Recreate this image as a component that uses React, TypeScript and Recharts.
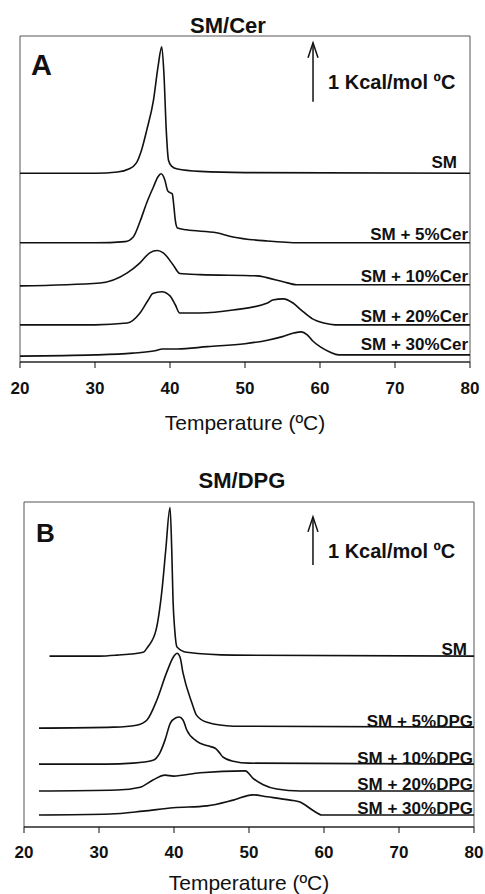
import React from 'react';
import { LineChart, Line, XAxis, YAxis, ReferenceArea, ReferenceLine } from 'recharts';

const FONT = '"Liberation Sans", Arial, Helvetica, sans-serif';

// Shared temperature axis (°C)
const temperatureTicks = [20, 30, 40, 50, 60, 70, 80];

// ---------- Panel A: SM/Cer — excess heat capacity (kcal/mol/°C) vs T (°C) ----------
const cerLabels = ['SM', 'SM + 5%Cer', 'SM + 10%Cer', 'SM + 20%Cer', 'SM + 30%Cer'];
const cerOffsets = [3.2, 2.02, 1.31, 0.63, 0.12];
const cerSM: [number, number][] = [
  [20, 0], [30, 0], [33, 0.02], [34.5, 0.07], [35.5, 0.17], [36.2, 0.39], [36.9, 0.73],
  [37.8, 1.24], [38.4, 1.8], [38.9, 2.14], [39.2, 1.66], [39.5, 0.73], [39.8, 0.22],
  [40.2, 0.12], [41, 0.07], [44, 0.03], [50, 0.01], [80, 0],
];
const cer5: [number, number][] = [
  [20, 0], [30, 0], [34, 0.02], [35.1, 0.1], [36, 0.36], [36.9, 0.68], [37.8, 0.95],
  [38.4, 1.12], [38.8, 1.17], [39.3, 1.07], [39.7, 0.88], [40.0, 0.85], [40.3, 0.83],
  [40.5, 0.64], [40.7, 0.39], [41, 0.25], [42.2, 0.22], [46.2, 0.17], [48.4, 0.1],
  [53, 0.03], [57.3, 0], [80, 0],
];
const cer10: [number, number][] = [
  [20, -0.02], [30.7, 0.03], [34.3, 0.2], [36, 0.37], [37.3, 0.54], [38.3, 0.58],
  [39.1, 0.54], [40.4, 0.34], [41.3, 0.19], [44, 0.17], [51.6, 0.15], [52.9, 0.12],
  [55.1, 0.05], [56.9, 0], [80, 0],
];
const cer20: [number, number][] = [
  [20, 0], [30, 0], [34.3, 0.03], [36, 0.2], [37.1, 0.42], [37.7, 0.53], [38.9, 0.56],
  [40, 0.49], [40.7, 0.34], [41.3, 0.2], [44, 0.2], [48.4, 0.25], [53, 0.37], [53.7, 0.42],
  [55.1, 0.44], [56.4, 0.37], [57.5, 0.25], [59, 0.1], [60.5, 0.03], [62, 0], [80, 0],
];
const cer30: [number, number][] = [
  [20, -0.02], [30, 0], [35, 0.03], [38, 0.07], [39, 0.1], [41, 0.1], [45, 0.14],
  [50, 0.19], [53, 0.25], [55, 0.31], [56.5, 0.37], [57.5, 0.39], [58.3, 0.34],
  [59, 0.24], [60, 0.14], [61.3, 0.05], [62.5, 0], [80, 0],
];
const cerSeries = [cerSM, cer5, cer10, cer20, cer30];

// ---------- Panel B: SM/DPG ----------
const dpgLabels = ['SM', 'SM + 5%DPG', 'SM + 10%DPG', 'SM + 20%DPG', 'SM + 30%DPG'];
const dpgOffsets = [3.56, 2.08, 1.31, 0.75, 0.25];
const dpgSM: [number, number][] = [
  [23.4, 0], [30, 0], [32.4, 0.02], [35.9, 0.08], [36.5, 0.19], [37.6, 0.54], [38.4, 1.38],
  [38.9, 2.21], [39.47, 3.1], [39.7, 2.21], [39.87, 1.17], [40.1, 0.54], [40.4, 0.19],
  [41.7, 0.08], [47.9, 0.02], [80, 0],
];
const dpg5: [number, number][] = [
  [22, -0.02], [32, 0], [35, 0.04], [36.4, 0.15], [37.7, 0.56], [39, 1.13], [40, 1.48],
  [40.4, 1.54], [40.8, 1.46], [41.2, 1.13], [42.4, 0.5], [43, 0.25], [44.4, 0.1],
  [47.9, 0.02], [80, 0],
];
const dpg10: [number, number][] = [
  [22, 0], [31, 0], [34.5, 0.02], [37.2, 0.08], [38.1, 0.23], [38.8, 0.5], [39.5, 0.85],
  [40.2, 0.96], [40.7, 0.98], [41.2, 0.92], [41.7, 0.71], [43, 0.48], [44.5, 0.38],
  [45.5, 0.33], [46, 0.25], [46.5, 0.15], [47.9, 0.06], [50, 0.02], [80, 0],
];
const dpg20: [number, number][] = [
  [22, 0], [32.4, 0.02], [35.5, 0.08], [37.2, 0.23], [38.8, 0.33], [39.9, 0.31],
  [43.5, 0.38], [49.5, 0.42], [50.5, 0.27], [51.9, 0.13], [53.7, 0.04], [56.8, 0], [80, 0],
];
const dpg30: [number, number][] = [
  [22, 0], [31.5, 0.02], [35.9, 0.08], [39.9, 0.15], [44.4, 0.19], [47.9, 0.31],
  [50.5, 0.42], [52.4, 0.38], [55.5, 0.31], [56.8, 0.27], [58.5, 0.1], [59.7, 0], [80, 0],
];
const dpgSeries = [dpgSM, dpg5, dpg10, dpg20, dpg30];

// Scale bar: 1 kcal/mol/°C
const scaleBarA = { t: 59.07, base: 4.41, length: 1 };
const scaleBarB = { t: 58.53, base: 5.46, length: 1 };

// ---------- styles ----------
const labelShiftA = [[-13, -5], [-2, -3], [-2, -3], [-2, -3], [-2, -5]];
const labelShiftB = [[-7, -1], [-1, 0], [-1, 0], [-1, -1], [-1, -1]];

function buildSeries(points: [number, number][], offset: number) {
  return points.map(([t, cp]) => ({ t, y: +(cp + offset).toFixed(3) }));
}

function endLabel(text: string, count: number, shift: number[]) {
  return (props: any) => {
    if (props.index !== count - 1) return null;
    return (
      <text
        key={text}
        x={props.x + shift[0]}
        y={props.y + shift[1]}
        textAnchor="end"
        fontFamily={FONT}
        fontWeight="bold"
        fontSize={17}
        fill="#111"
      >
        {text}
      </text>
    );
  };
}

function arrowShape(textDy: number) {
  return (p: any) => {
    const { x1, y1, x2, y2 } = p;
    const top = Math.min(y1, y2);
    const bottom = Math.max(y1, y2);
    const x = x1;
    return (
      <g>
        <line x1={x} y1={bottom} x2={x2} y2={top} stroke="#111" strokeWidth={1.5} />
        <polyline
          points={`${x - 5},${top + 15} ${x},${top} ${x + 5},${top + 15}`}
          fill="none"
          stroke="#111"
          strokeWidth={1.5}
        />
        <text
          x={x + 15}
          y={bottom + textDy}
          fontFamily={FONT}
          fontWeight="bold"
          fontSize={20}
          fill="#111"
        >
          1 Kcal/mol ºC
        </text>
      </g>
    );
  };
}

interface PanelProps {
  series: [number, number][][];
  offsets: number[];
  labels: string[];
  shifts: number[][];
  yMax: number;
  width: number;
  height: number;
  margin: { top: number; right: number; bottom: number; left: number };
  axisHeight: number;
  tickMargin: number;
  labelOffset: number;
  bar: { t: number; base: number; length: number };
  barTextDy: number;
}

function Panel(p: PanelProps) {
  return (
    <LineChart width={p.width} height={p.height} margin={p.margin}>
      <XAxis
        type="number"
        dataKey="t"
        domain={[20, 80]}
        ticks={temperatureTicks}
        allowDataOverflow
        axisLine={{ stroke: '#111', strokeWidth: 1.2 }}
        tickLine={{ stroke: '#111' }}
        tickSize={6}
        tickMargin={p.tickMargin}
        height={p.axisHeight}
        tick={{ fill: '#111', fontSize: 17, fontWeight: 'bold', fontFamily: FONT }}
        label={{
          value: 'Temperature (ºC)',
          position: 'insideBottom',
          offset: p.labelOffset,
          style: { fill: '#111', fontSize: 21, fontFamily: FONT },
        }}
      />
      <YAxis type="number" dataKey="y" domain={[0, p.yMax]} hide allowDataOverflow />
      <ReferenceArea x1={20} x2={80} y1={0} y2={p.yMax} fill="none" stroke="#555" strokeWidth={1} />
      {p.series.map((pts, i) => (
        <Line
          key={p.labels[i]}
          data={buildSeries(pts, p.offsets[i])}
          dataKey="y"
          type="monotone"
          stroke="#111"
          strokeWidth={1.6}
          dot={false}
          isAnimationActive={false}
          label={endLabel(p.labels[i], pts.length, p.shifts[i])}
        />
      ))}
      <ReferenceLine
        segment={[
          { x: p.bar.t, y: p.bar.base },
          { x: p.bar.t, y: p.bar.base + p.bar.length },
        ]}
        shape={arrowShape(p.barTextDy)}
      />
    </LineChart>
  );
}

export default function App() {
  return (
    <div style={{ position: 'absolute', left: 0, top: 0, width: 485, height: 894, background: '#fff' }}>
      <div style={{ position: 'absolute', left: 0, top: 0 }}>
        <Panel
          series={cerSeries}
          offsets={cerOffsets}
          labels={cerLabels}
          shifts={labelShiftA}
          yMax={5.525}
          width={485}
          height={440}
          margin={{ top: 36, right: 15, bottom: 0, left: 20 }}
          axisHeight={78}
          tickMargin={14}
          labelOffset={10}
          bar={scaleBarA}
          barTextDy={-13}
        />
      </div>
      <div style={{ position: 'absolute', left: 0, top: 450 }}>
        <Panel
          series={dpgSeries}
          offsets={dpgOffsets}
          labels={dpgLabels}
          shifts={labelShiftB}
          yMax={6.77}
          width={485}
          height={444}
          margin={{ top: 52, right: 11, bottom: 0, left: 24 }}
          axisHeight={67}
          tickMargin={13}
          labelOffset={4}
          bar={scaleBarB}
          barTextDy={-7}
        />
      </div>
      <svg
        width={485}
        height={894}
        style={{ position: 'absolute', left: 0, top: 0, pointerEvents: 'none' }}
      >
        <text x={228} y={33} textAnchor="middle" fontFamily={FONT} fontWeight="bold" fontSize={22} fill="#111">
          SM/Cer
        </text>
        <text x={31} y={75} fontFamily={FONT} fontWeight="bold" fontSize={29} fill="#111">
          A
        </text>
        <text x={242} y={488} textAnchor="middle" fontFamily={FONT} fontWeight="bold" fontSize={22} fill="#111">
          SM/DPG
        </text>
        <text x={36} y={542} fontFamily={FONT} fontWeight="bold" fontSize={26} fill="#111">
          B
        </text>
      </svg>
    </div>
  );
}
